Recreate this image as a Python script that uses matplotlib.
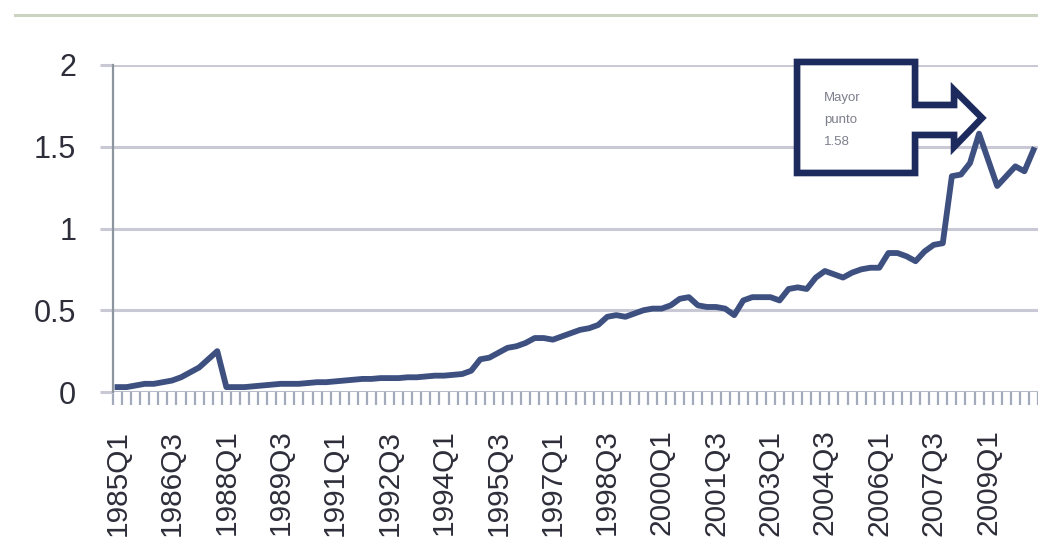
import numpy as np
import matplotlib
matplotlib.use("Agg")
from matplotlib import pyplot as plt
from matplotlib.lines import Line2D
from matplotlib.patches import Polygon
from matplotlib.transforms import Affine2D, ScaledTranslation

plt.rcParams['font.family'] = ['Liberation Sans', 'DejaVu Sans']

# quarterly series, 1985Q1 .. 2010Q2
start_year = 1985
values = [
    0.03, 0.03, 0.04, 0.05, 0.05, 0.06, 0.07, 0.09, 0.12, 0.15, 0.20, 0.25,   # 1985-1987
    0.03, 0.03, 0.03, 0.035, 0.04, 0.045, 0.05, 0.05,                          # 1988-1989
    0.05, 0.055, 0.06, 0.06, 0.065, 0.07, 0.075, 0.08,                         # 1990-1991
    0.08, 0.085, 0.085, 0.085, 0.09, 0.09, 0.095, 0.10,                        # 1992-1993
    0.10, 0.105, 0.11, 0.13, 0.20, 0.21, 0.24, 0.27,                           # 1994-1995
    0.28, 0.30, 0.33, 0.33, 0.32, 0.34, 0.36, 0.38,                            # 1996-1997
    0.39, 0.41, 0.46, 0.47, 0.46, 0.48, 0.50, 0.51,                            # 1998-1999
    0.51, 0.53, 0.57, 0.58, 0.53, 0.52, 0.52, 0.51,                            # 2000-2001
    0.47, 0.56, 0.58, 0.58, 0.58, 0.56, 0.63, 0.64,                            # 2002-2003
    0.63, 0.70, 0.74, 0.72, 0.70, 0.73, 0.75, 0.76,                            # 2004-2005
    0.76, 0.85, 0.85, 0.83, 0.80, 0.86, 0.90, 0.91,                            # 2006-2007
    1.32, 1.33, 1.40, 1.58, 1.42, 1.26, 1.32, 1.38,                            # 2008-2009
    1.35, 1.48,                                                                # 2010
]
labels = [f"{start_year + k // 4}Q{k % 4 + 1}" for k in range(len(values))]
label_step = 6
callout_text = "Mayor\npunto\n1.58"

line_color = '#3d5080'
grid_color = '#c9c9d6'
text_color = '#2e2e3a'
navy = '#1c2a5e'

fig = plt.figure(figsize=(10.38, 5.47), dpi=100)
ax = fig.add_axes([113 / 1038, 1 - 392 / 547, 1 - 113 / 1038, (392 - 65) / 547])

x = np.arange(len(values))
ax.plot(x, values, color=line_color, lw=4.2, solid_joinstyle='round', zorder=3)

ax.set_ylim(0, 2)
ax.set_yticks([0, 0.5, 1, 1.5, 2])
ax.set_yticklabels(['0', '0.5', '1', '1.5', '2'])
ax.set_xlim(-0.5, 100.77)

ax.set_xticks(x[::label_step])
ax.set_xticklabels(labels[::label_step], rotation=90)
ax.set_xticks(np.arange(-0.5, len(values)), minor=True)

ax.grid(axis='y', color=grid_color, lw=2.2)
ax.set_axisbelow(True)
for s in ['top', 'right', 'bottom']:
    ax.spines[s].set_visible(False)
ax.spines['left'].set_color('#8c949e')
ax.spines['left'].set_linewidth(1.6)
ax.axhline(0, color='#b8bcc8', lw=2.2, zorder=2)

ax.tick_params(axis='y', length=9.5, width=2.2, color=grid_color, pad=17,
               labelsize=22, labelcolor=text_color)
ax.tick_params(axis='x', which='major', length=0, pad=27, labelsize=21.5,
               labelcolor=text_color)
ax.tick_params(axis='x', which='minor', length=9.5, width=1.6, color='#a3aabb')

# callout box with arrow pointing at the highest point
peak_i = int(np.argmax(values))
peak_v = values[peak_i]
shape_tr = Affine2D() + ScaledTranslation(peak_i, peak_v, ax.transData)
verts = [(-182, 71.7), (-64, 71.7), (-64, 28.7), (-25, 28.7), (-25, 43.7),
         (3, 15.7), (-25, -13.3), (-25, -1.3), (-64, -1.3), (-64, -39.3),
         (-182, -39.3)]
callout = Polygon(verts, closed=True, transform=shape_tr, facecolor='white',
                  edgecolor=navy, lw=4.8, joinstyle='miter', zorder=5,
                  clip_on=False)
ax.add_patch(callout)
ax.text(-155, 13.7, callout_text, transform=shape_tr, ha='left', va='center',
        fontsize=9.5, color='#7d7f8c', linespacing=2.1, zorder=6)

# thin line across the top of the slide
fig.add_artist(Line2D([15 / 1038, 1], [1 - 15 / 547] * 2, transform=fig.transFigure,
                      color='#cad4c0', lw=2.2))

fig.savefig('out.png', dpi=100)
